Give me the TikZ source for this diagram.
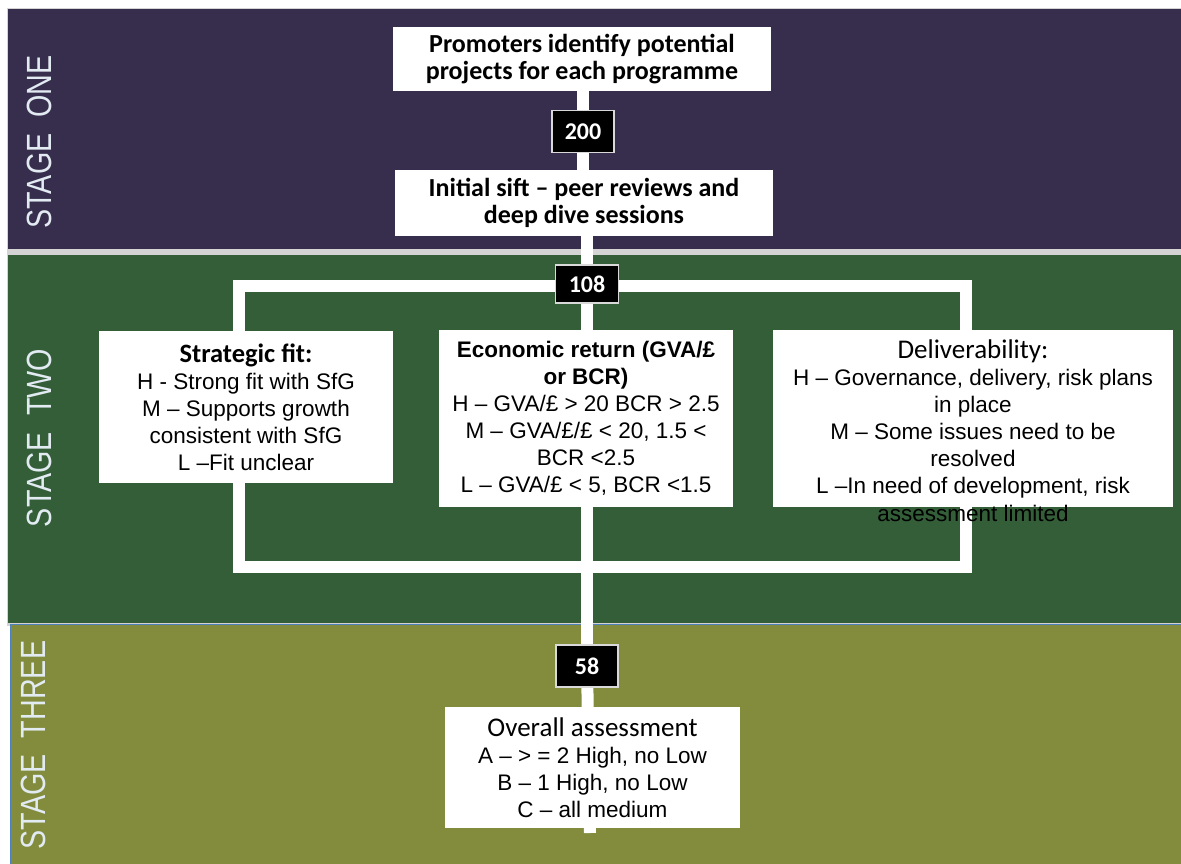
\documentclass[tikz,border=0pt]{standalone}
\usepackage{fontspec}
\usepackage{graphicx}
\setmainfont{Liberation Sans}
\newfontfamily\calfont{Carlito}
\usetikzlibrary{calc}
\definecolor{stpurple}{RGB}{55,45,76}
\definecolor{stgreen}{RGB}{51,94,56}
\definecolor{stolive}{RGB}{130,140,60}
\definecolor{stlabel}{RGB}{226,234,242}
\definecolor{stedge}{RGB}{79,129,189}
\definecolor{stgap}{RGB}{212,212,212}
\pgfdeclarelayer{bands}
\pgfdeclarelayer{lines}
\pgfsetlayers{bands,lines,main}
\tikzset{
  wbox/.style={fill=white, draw=none, inner sep=0pt, align=center, text=black},
  body/.style={font=\fontsize{22.5}{27}\selectfont},
  headb/.style={font=\calfont\bfseries\fontsize{26}{27}\selectfont},
  numbox/.style={fill=black, draw=white!85!black, line width=1.2pt, text=white,
    font=\calfont\bfseries\fontsize{24}{26}\selectfont, inner sep=0pt,
    minimum width=62pt, minimum height=42pt},
  flow/.style={white, line width=12pt},
  stagelbl/.style={text=stlabel, font=\fontsize{35}{40}\selectfont, rotate=90, inner sep=0pt},
}
\newcommand{\calhead}[1]{{\calfont\fontsize{27}{27}\selectfont #1}}
\newcommand{\calbhead}[1]{{\calfont\bfseries\fontsize{26.5}{27}\selectfont #1}}
\begin{document}
\begin{tikzpicture}[x=1pt,y=-1pt]
\useasboundingbox (0,0) rectangle (1181,863);
\begin{pgfonlayer}{bands}
  \fill[white] (0,0) rectangle (1181,863);
  \fill[stgap] (7,8) rectangle (1181,626);
  \fill[stpurple] (8,9) rectangle (1181,249);
  \fill[stgreen] (8,255) rectangle (1181,623);
  \filldraw[fill=stolive, draw=stedge, line width=1.5pt] (10.5,624.5) rectangle (1190,875);
\end{pgfonlayer}

% stage labels
\node[stagelbl] (s1) at (39,142) {\scalebox{0.82}[1]{STAGE\ \ ONE}};
\node[stagelbl] (s2) at (39,438) {\scalebox{0.82}[1]{STAGE\ \ TWO}};
\node[stagelbl] (s3) at (33,745) {\scalebox{0.82}[1]{STAGE\ \ THREE}};

% stage one
\node[wbox, headb, minimum width=378pt, minimum height=64pt] (p) at (582,59)
  {Promoters identify potential\\projects for each programme};
\node[numbox] (n200) at (583,131.5) {200};
\node[wbox, headb, minimum width=378pt, minimum height=66pt] (sift) at (584,203)
  {Initial sift – peer reviews and\\deep dive sessions};

% stage two
\node[numbox, minimum width=63pt, minimum height=38pt] (n108) at (587,284) {108};
\coordinate (ftl) at (239,286);
\coordinate (fbl) at (239,567);
\coordinate (fbr) at (966,567);
\coordinate (ftr) at (966,286);

\node[wbox, body, minimum width=294pt, minimum height=152pt] (sf) at (246,407)
  {\calbhead{Strategic fit:}\\H - Strong fit with SfG\\M – Supports growth\\consistent with SfG\\L –Fit unclear};
\node[wbox, body, minimum width=294pt, minimum height=177pt] (ec) at (586,418.5)
  {\textbf{Economic return (GVA/£}\\\textbf{or BCR)}\\H – GVA/£ > 20 BCR > 2.5\\M – GVA/£/£ < 20, 1.5 <\\BCR <2.5\\L – GVA/£ < 5, BCR <1.5};
\node[wbox, body, minimum width=400pt, minimum height=177pt] (dl) at (973,418.5)
  {\calhead{Deliverability:}\\H – Governance, delivery, risk plans\\in place\\M – Some issues need to be\\resolved\\L –In need of development, risk};
\node[body, inner sep=0pt, text=black] (dlx) at (973,513) {assessment limited};

% stage three
\node[numbox] (n58) at (587,666) {58};
\node[wbox, body, minimum width=295pt, minimum height=121pt] (ov) at (592.5,767.5)
  {\calhead{Overall assessment}\\A – > = 2 High, no Low\\B – 1 High, no Low\\C – all medium};
\coordinate (stub) at (590,833);

\begin{pgfonlayer}{lines}
  \draw[flow] (n200.center) -- (n200.center |- p.center);
  \draw[flow] (n200.center) -- (n200.center |- sift.center);
  \draw[flow] (n108.center) -- (n108.center |- sift.center);
  \draw[flow, line join=miter] (ftl) -- (fbl) -- (fbr) -- (ftr) -- cycle;
  \draw[flow] (n108.center) -- (n58.center);
  \draw[flow] (n58.center) -- (stub);
\end{pgfonlayer}
\end{tikzpicture}
\end{document}
